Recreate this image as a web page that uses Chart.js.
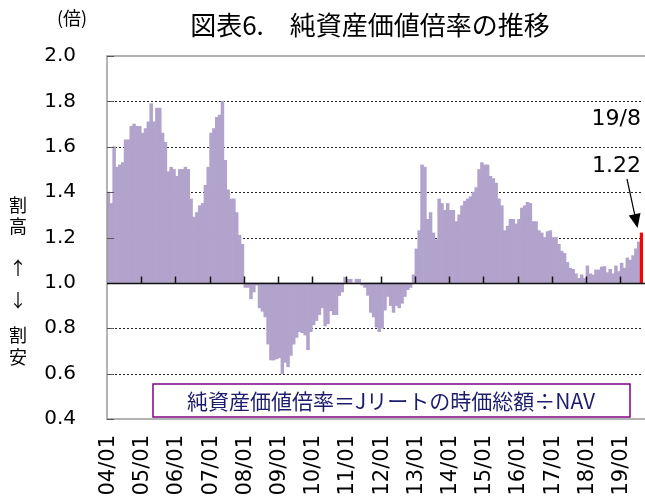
<!DOCTYPE html>
<html>
<head>
<meta charset="utf-8">
<script src="https://cdn.jsdelivr.net/npm/chart.js@4.4.0/dist/chart.umd.min.js"></script>
<style>
  html, body { margin: 0; padding: 0; background: #fff; }
  #wrap { width: 645px; height: 497px; }
</style>
</head>
<body>
<div id="wrap"><canvas id="ratio"></canvas></div>
<script>
// monthly price / NAV ratio, 2004/01 .. 2019/08
const ratio = [
  1.40, 1.35, 1.60, 1.51, 1.52, 1.53, 1.63, 1.63, 1.69, 1.70, 1.69, 1.69,   // 2004
  1.66, 1.68, 1.71, 1.79, 1.71, 1.77, 1.77, 1.66, 1.62, 1.49, 1.51, 1.50,   // 2005
  1.47, 1.50, 1.50, 1.51, 1.50, 1.37, 1.29, 1.31, 1.34, 1.35, 1.43, 1.51,   // 2006
  1.66, 1.68, 1.73, 1.74, 1.80, 1.54, 1.41, 1.37, 1.37, 1.31, 1.21, 1.17,   // 2007
  0.98, 0.98, 0.93, 0.96, 0.99, 0.89, 0.875, 0.85, 0.73, 0.66, 0.66, 0.665, // 2008
  0.67, 0.60, 0.65, 0.63, 0.68, 0.73, 0.76, 0.785, 0.78, 0.77, 0.705, 0.785, // 2009
  0.815, 0.834, 0.86, 0.89, 0.81, 0.82, 0.877, 0.86, 0.86, 0.944, 0.96, 1.025, // 2010
  1.016, 1.016, 0.996, 1.016, 1.016, 0.99, 0.98, 0.945, 0.87, 0.85, 0.805, 0.785, // 2011
  0.80, 0.88, 0.94, 0.90, 0.87, 0.90, 0.89, 0.91, 0.94, 0.97, 0.98, 1.035,  // 2012
  1.15, 1.23, 1.52, 1.51, 1.28, 1.31, 1.22, 1.19, 1.37, 1.35, 1.32, 1.35,   // 2013
  1.32, 1.32, 1.27, 1.30, 1.34, 1.36, 1.37, 1.38, 1.40, 1.42, 1.50, 1.53,   // 2014
  1.52, 1.52, 1.47, 1.46, 1.44, 1.37, 1.34, 1.23, 1.25, 1.28, 1.28, 1.26,   // 2015
  1.28, 1.33, 1.34, 1.355, 1.35, 1.27, 1.27, 1.23, 1.22, 1.20, 1.226, 1.23, // 2016
  1.20, 1.20, 1.17, 1.14, 1.13, 1.09, 1.065, 1.06, 1.04, 1.02, 1.035, 1.02, // 2017
  1.075, 1.04, 1.035, 1.057, 1.057, 1.07, 1.072, 1.045, 1.06, 1.04, 1.075, 1.05, // 2018
  1.087, 1.065, 1.11, 1.10, 1.12, 1.15, 1.18, 1.22                          // 2019
];
const months = ratio.map((v, i) => {
  const yy = 4 + Math.floor(i / 12), mm = i % 12 + 1;
  return String(yy).padStart(2, '0') + '/' + String(mm).padStart(2, '0');
});
const yMin = 0.4, yMax = 2.0, yStep = 0.2, parity = 1.0;
const lastLabel = '19/8';

const barColors = ratio.map((v, i) => i === ratio.length - 1 ? '#ff0000' : '#b1a3cb');

const decor = {
  id: 'decor',
  beforeDatasetsDraw(chart) {
    const {ctx, chartArea: a, scales: {y}} = chart;
    ctx.save();
    ctx.strokeStyle = '#222';
    ctx.lineWidth = 1;
    ctx.setLineDash([2, 2]);
    y.ticks.forEach(t => {
      if ([yMin, parity, yMax].some(v => Math.abs(v - t.value) < 1e-6)) return;
      const py = Math.round(y.getPixelForValue(t.value)) + 0.5;
      ctx.beginPath(); ctx.moveTo(a.left, py); ctx.lineTo(a.right, py); ctx.stroke();
    });
    ctx.restore();
  },
  afterDatasetsDraw(chart) {
    const {ctx, chartArea: a, scales: {x, y}} = chart;
    ctx.save();
    // frame
    ctx.strokeStyle = '#9a9a9a';
    ctx.lineWidth = 1.5;
    ctx.beginPath();
    ctx.moveTo(a.right + 2, a.top); ctx.lineTo(a.left, a.top);
    ctx.lineTo(a.left, a.bottom); ctx.lineTo(a.right + 2, a.bottom);
    ctx.stroke();
    // small inward ticks on the value axis
    ctx.strokeStyle = '#555';
    ctx.lineWidth = 1;
    y.ticks.forEach(t => {
      const py = Math.round(y.getPixelForValue(t.value)) + 0.5;
      ctx.beginPath(); ctx.moveTo(a.left, py); ctx.lineTo(a.left + 7, py); ctx.stroke();
    });
    // parity line with yearly ticks
    const py = Math.round(y.getPixelForValue(parity)) + 0.5;
    ctx.strokeStyle = '#111';
    ctx.lineWidth = 1.5;
    ctx.beginPath(); ctx.moveTo(a.left, py); ctx.lineTo(a.right + 2, py); ctx.stroke();
    const half = x.width / months.length / 2;
    months.forEach((m, i) => {
      if (!m.endsWith('/01') || i === 0) return;
      const px = Math.round(x.getPixelForValue(i) - half) + 0.5;
      ctx.beginPath(); ctx.moveTo(px, py); ctx.lineTo(px, py - 7); ctx.stroke();
    });
    ctx.restore();
  },
  afterDraw(chart) {
    const {ctx, scales: {x, y}} = chart;
    ctx.save();
    ctx.fillStyle = '#000';
    ctx.textAlign = 'center';
    ctx.textBaseline = 'middle';
    ctx.font = '26px "Noto Sans CJK JP"';
    ctx.fillText('図表6.　純資産価値倍率の推移', 370, 25);
    ctx.font = '18px "Noto Sans CJK JP"';
    ctx.fillText('(倍)', 72, 18);
    [['割', 205], ['高', 226], ['↑', 268], ['↓', 300], ['割', 335], ['安', 357]].forEach(([c, cy]) => {
      ctx.fillText(c, 18, cy);
    });
    // latest value note
    const last = ratio.length - 1;
    const bx = x.getPixelForValue(last);
    const by = y.getPixelForValue(ratio[last]);
    ctx.font = '22px "DejaVu Sans"';
    ctx.textAlign = 'right';
    ctx.fillText(lastLabel, 641, 119);
    ctx.fillText(ratio[last].toFixed(2), 641, 166);
    const sx = 627, sy = 179, ex = bx - 4, ey = by - 5;
    const ang = Math.atan2(ey - sy, ex - sx);
    ctx.strokeStyle = '#000';
    ctx.lineWidth = 1.2;
    ctx.beginPath(); ctx.moveTo(sx, sy);
    ctx.lineTo(ex - 12 * Math.cos(ang), ey - 12 * Math.sin(ang)); ctx.stroke();
    ctx.beginPath();
    ctx.moveTo(ex, ey);
    ctx.lineTo(ex - 14 * Math.cos(ang) + 6 * Math.sin(ang), ey - 14 * Math.sin(ang) - 6 * Math.cos(ang));
    ctx.lineTo(ex - 14 * Math.cos(ang) - 6 * Math.sin(ang), ey - 14 * Math.sin(ang) + 6 * Math.cos(ang));
    ctx.closePath(); ctx.fill();
    // formula box
    ctx.fillStyle = '#fff';
    ctx.fillRect(153, 384, 477, 33);
    ctx.strokeStyle = '#800080';
    ctx.lineWidth = 1.5;
    ctx.strokeRect(153, 384, 477, 33);
    ctx.fillStyle = '#1c1c6c';
    ctx.textAlign = 'center';
    ctx.font = '21px "Noto Sans CJK JP"';
    ctx.fillText('純資産価値倍率＝Jリートの時価総額÷NAV', 391, 401);
    ctx.restore();
  }
};

new Chart(document.getElementById('ratio').getContext('2d'), {
  type: 'bar',
  data: {
    labels: months,
    datasets: [{
      data: ratio.map(v => [parity, v]),
      backgroundColor: barColors,
      borderWidth: 0,
      barPercentage: 1.0,
      categoryPercentage: 1.0
    }]
  },
  options: {
    responsive: true,
    maintainAspectRatio: false,
    animation: false,
    devicePixelRatio: 1,
    layout: { padding: { top: 56, right: 2, left: 0, bottom: 0 } },
    scales: {
      x: {
        grid: { display: false },
        border: { display: false },
        ticks: {
          autoSkip: false,
          minRotation: 90,
          maxRotation: 90,
          padding: 8,
          color: '#000',
          font: { family: 'DejaVu Sans', size: 21 },
          callback: (v, i) => months[i].endsWith('/01') ? months[i] : ''
        },
        afterFit: s => { s.height = 78; s.paddingLeft = 0; s.paddingRight = 0; }
      },
      y: {
        min: yMin,
        max: yMax,
        grid: { display: false, drawTicks: false },
        border: { display: false },
        ticks: {
          stepSize: yStep,
          padding: 31,
          color: '#000',
          font: { family: 'DejaVu Sans', size: 20 },
          callback: v => v.toFixed(1)
        },
        afterFit: s => { s.width = 107; s.paddingTop = 0; s.paddingBottom = 0; }
      }
    },
    plugins: {
      legend: { display: false },
      tooltip: { enabled: false }
    }
  },
  plugins: [decor]
});
</script>
</body>
</html>
